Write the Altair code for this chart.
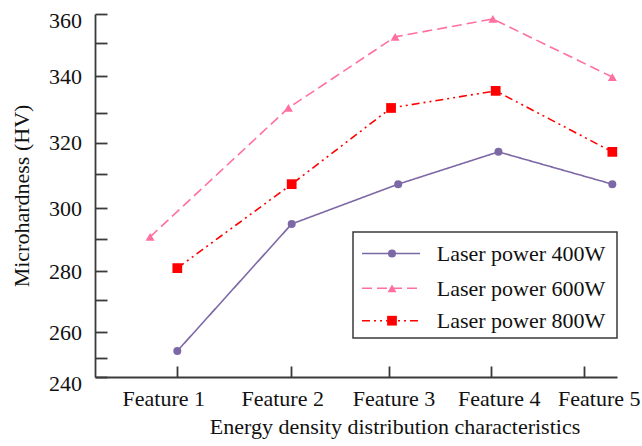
import altair as alt
import pandas as pd

# ---- data ----
series_names = ["Laser power 400W", "Laser power 600W", "Laser power 800W"]
series_colors = ["#7d68a6", "#ff6fa0", "#ff0000"]

feature_ticks = [1, 2, 3, 4, 5]
feature_labels = ["Feature 1", "Feature 2", "Feature 3", "Feature 4", "Feature 5"]

# horizontal positions (in feature units) and microhardness (HV) of each marker
x_400 = [1.00, 2.01, 3.09, 4.08, 5.30]
hv_400 = [252.8, 294.9, 307.1, 317.1, 307.1]
x_600 = [0.76, 1.98, 3.06, 4.02, 5.30]
hv_600 = [290.7, 331.3, 352.2, 358.3, 339.8]
x_800 = [1.00, 2.01, 3.02, 4.05, 5.30]
hv_800 = [280.9, 307.1, 331.3, 336.0, 317.1]

hv_ticks = list(range(240, 361, 10))

rows = []
for name, xs, ys in zip(series_names, [x_400, x_600, x_800], [hv_400, hv_600, hv_800]):
    for xv, yv in zip(xs, ys):
        rows.append({"series": name, "x": xv, "hv": yv})
df = pd.DataFrame(rows)
legend_df = pd.DataFrame({"series": series_names})
box_df = pd.DataFrame({"k": [0]})

FONT = "Liberation Serif"
AXIS_COL = "#3a3a3a"
TXT = "#111111"

W, H = 522, 363
X_TICK = 11
Y_TICK = 12

# the original axes are not evenly spaced: piecewise scales follow its tick marks
x_scale = alt.Scale(domain=[0.274, 1, 2, 3, 4, 5, 5.35],
                    range=[0, 82.3, 195.7, 294, 396, 489.3, W], nice=False, zero=False)
y_scale = alt.Scale(domain=hv_ticks,
                    range=[H, 344.3, 318.3, 286, 257, 225, 194.3, 160.3, 128.7, 98.7, 62.3, 29.3, 0],
                    nice=False, zero=False)

color_scale = alt.Scale(domain=series_names, range=series_colors)
dash_scale = alt.Scale(domain=series_names, range=[[1, 0], [10, 5], [8, 4, 2, 4, 2, 4]])
shape_scale = alt.Scale(domain=series_names, range=["circle", "triangle-up", "square"])
size_scale = alt.Scale(domain=series_names, range=[64, 95, 85])

label_names = "[" + ",".join("'%s'" % l for l in feature_labels) + "]"

x_axis = alt.Axis(
    values=feature_ticks,
    labelExpr=label_names + "[datum.value - 1]",
    title="Energy density distribution characteristics",
    # inward tick marks: only the bottom part of each grid line is drawn
    grid=True, gridDash=[0, H - X_TICK, X_TICK, 2000], gridColor=AXIS_COL, gridWidth=1.8,
    ticks=False, tickSize=0,
    domainColor=AXIS_COL, domainWidth=1.8,
    labelFont=FONT, labelFontSize=22, labelColor=TXT, labelPadding=11,
    labelFlush=False, labelOverlap=False,
    labelOffset={"condition": [
        {"test": "datum.value == 1", "value": -14},
        {"test": "datum.value == 2", "value": -8.5},
        {"test": "datum.value == 3", "value": 4.5},
        {"test": "datum.value == 4", "value": 7.8},
        {"test": "datum.value == 5", "value": 14.5}], "value": 0},
    titleFont=FONT, titleFontSize=22, titleFontWeight="normal", titleColor=TXT,
    titleX=299.5, titleY=56, titleAlign="center", titleBaseline="alphabetic",
)

y_axis = alt.Axis(
    values=hv_ticks,
    labelExpr="datum.value % 20 == 0 ? datum.value : ''",
    title="Microhardness (HV)",
    grid=True, gridDash=[Y_TICK, 2000], gridColor=AXIS_COL, gridWidth=1.8,
    ticks=False, tickSize=0,
    domainColor=AXIS_COL, domainWidth=1.8,
    labelFont=FONT, labelFontSize=22, labelColor=TXT, labelPadding=13.5,
    labelFlush=False, labelOverlap=False,
    labelOffset={"condition": [
        {"test": "datum.value == 360 || datum.value == 240", "value": 6}], "value": 0},
    titleFont=FONT, titleFontSize=22, titleFontWeight="normal", titleColor=TXT,
    titleX=-67, titleY=H / 2, titleAlign="center", titleBaseline="alphabetic", titleAngle=270,
)

enc_x = alt.X("x:Q", scale=x_scale, axis=x_axis)
enc_y = alt.Y("hv:Q", scale=y_scale, axis=y_axis)

lines = alt.Chart(df).mark_line(strokeWidth=1.6).encode(
    x=enc_x, y=enc_y,
    color=alt.Color("series:N", scale=color_scale, legend=None),
    strokeDash=alt.StrokeDash("series:N", scale=dash_scale, legend=None),
    detail="series:N",
)

points = alt.Chart(df).mark_point(filled=True, opacity=1).encode(
    x=enc_x, y=enc_y,
    color=alt.Color("series:N", scale=color_scale, legend=None),
    shape=alt.Shape("series:N", scale=shape_scale, legend=None),
    size=alt.Size("series:N", scale=size_scale, legend=None),
)

# ---- hand-drawn legend box (lower right) ----
box = alt.Chart(box_df).mark_rect(fill="white", stroke=AXIS_COL, strokeWidth=1.5).encode(
    x=alt.value(258), x2=alt.value(522), y=alt.value(218), y2=alt.value(324)
)

legend_rows_y = [239.5, 274.3, 306.7]
legend_layers = []
for name, ry in zip(series_names, legend_rows_y):
    base = alt.Chart(legend_df).transform_filter(alt.datum.series == name)
    legend_layers.append(base.mark_rule(strokeWidth=1.6).encode(
        x=alt.value(267), x2=alt.value(325), y=alt.value(ry),
        color=alt.Color("series:N", scale=color_scale, legend=None),
        strokeDash=alt.StrokeDash("series:N", scale=dash_scale, legend=None),
    ))
    legend_layers.append(base.mark_point(filled=True, opacity=1).encode(
        x=alt.value(297), y=alt.value(ry),
        color=alt.Color("series:N", scale=color_scale, legend=None),
        shape=alt.Shape("series:N", scale=shape_scale, legend=None),
        size=alt.Size("series:N", scale=size_scale, legend=None),
    ))
    legend_layers.append(base.mark_text(
        align="left", baseline="alphabetic", dy=7.4, font=FONT, fontSize=22, color=TXT
    ).encode(x=alt.value(341.7), y=alt.value(ry), text="series:N"))

chart = alt.layer(lines, points, box, *legend_layers).properties(
    width=W, height=H,
    autosize=alt.AutoSizeParams(type="none"),
    padding={"left": 95, "top": 14, "right": 25, "bottom": 69},
    background="white",
).configure_view(stroke=None)

chart.save("out.html", embed_options={"renderer": "svg", "actions": False})
